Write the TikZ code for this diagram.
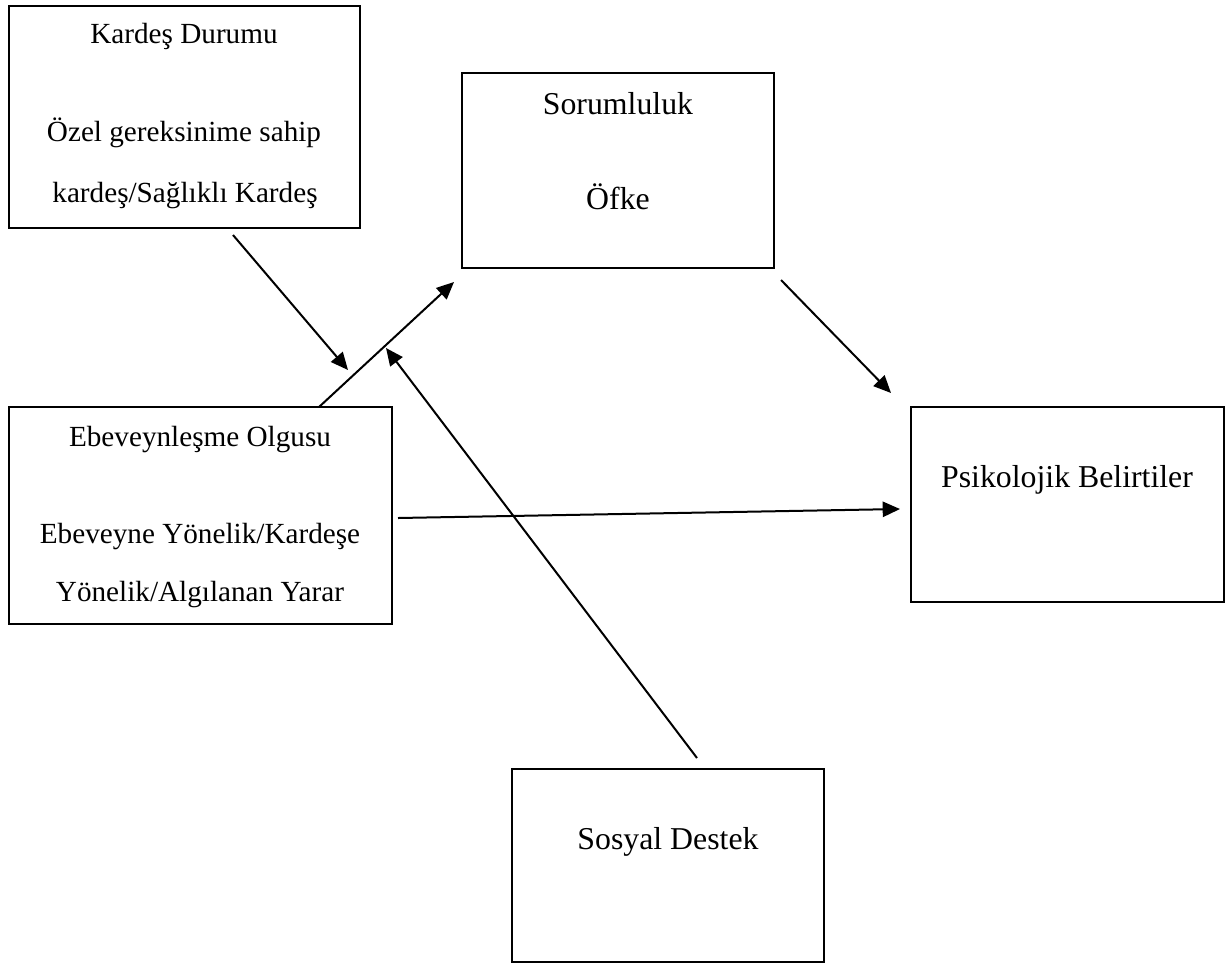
\documentclass[tikz,border=0pt]{standalone}
\usepackage{fontspec}
\setmainfont{Liberation Serif}
\usetikzlibrary{arrows.meta,fit}
\begin{document}
\begin{tikzpicture}[x=0.75pt,y=-0.75pt,
  box/.style={draw, line width=1.7pt, inner sep=0pt},
  bigtext/.style={font=\fontsize{23.85}{28}\selectfont, anchor=base, inner sep=0pt},
  smalltext/.style={font=\fontsize{21.9}{26}\selectfont, anchor=base, inner sep=0pt},
  link/.style={line width=1.5pt, -{Triangle[length=13pt,width=11.5pt]}}]
\useasboundingbox (0,0) rectangle (1230,965);

% boxes
\node[box, fit={(9,6) (360,228)}] (kd) {};
\node[box, fit={(462,73) (774,268)}] (so) {};
\node[box, fit={(9,407) (392,624)}] (eb) {};
\node[box, fit={(911,407) (1224,602)}] (ps) {};
\node[box, fit={(512,769) (824,962)}] (sd) {};

% box texts
\node[smalltext] (kd1) at (184,43) {Kardeş Durumu};
\node[smalltext] (kd2) at (184,141) {Özel gereksinime sahip};
\node[smalltext] (kd3) at (185,202) {kardeş/Sağlıklı Kardeş};

\node[bigtext] (so1) at (618,114) {Sorumluluk};
\node[bigtext] (so2) at (618,209) {Öfke};

\node[smalltext] (eb1) at (200,446) {Ebeveynleşme Olgusu};
\node[smalltext] (eb2) at (200,543) {Ebeveyne Yönelik/Kardeşe};
\node[smalltext] (eb3) at (200,601) {Yönelik/Algılanan Yarar};

\node[bigtext] (ps1) at (1067,487) {Psikolojik Belirtiler};
\node[bigtext] (sd1) at (668,849) {Sosyal Destek};

% connector ends
\coordinate (kdOut) at (233,235);
\coordinate (kdIn)  at (348,370);
\coordinate (ebTop) at (319,407);
\coordinate (soIn)  at (454,282);
\coordinate (sdOut) at (697,758);
\coordinate (sdIn)  at (386,348);
\coordinate (soOut) at (781,280);
\coordinate (psIn)  at (891,393);
\coordinate (ebOut) at (398,518);
\coordinate (psLeft) at (900,509);

% connectors
\draw[link] (kdOut) -- (kdIn);
\draw[link] (ebTop) -- (soIn);
\draw[link] (sdOut) -- (sdIn);
\draw[link] (soOut) -- (psIn);
\draw[link] (ebOut) -- (psLeft);
\end{tikzpicture}
\end{document}
